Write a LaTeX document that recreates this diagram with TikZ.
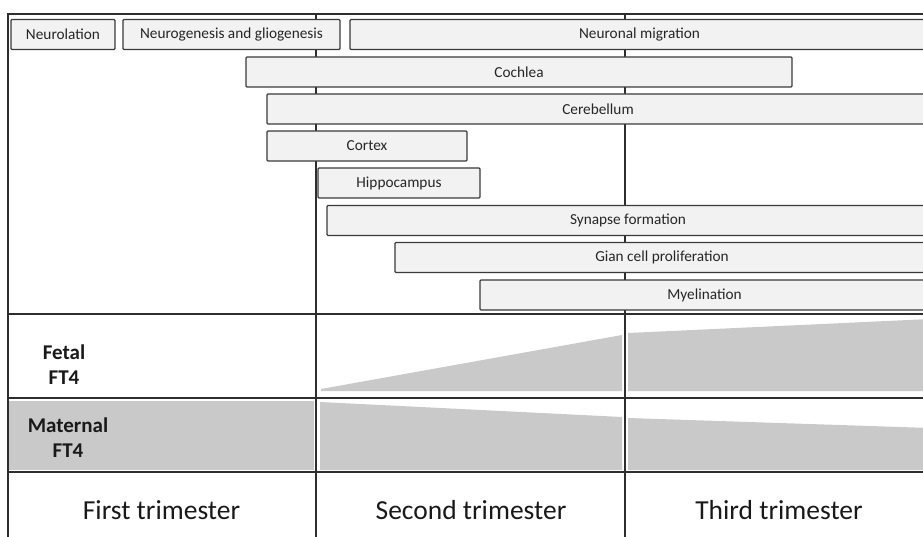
\documentclass[tikz,border=0pt]{standalone}
\usepackage{fontspec}
\setmainfont{Carlito}
\definecolor{BarFill}{HTML}{F2F2F2}
\definecolor{BarLine}{HTML}{3A3A3A}
\definecolor{LevelGray}{HTML}{C9C9C9}
\definecolor{GridLine}{HTML}{2E2E2E}

\begin{document}
\begin{tikzpicture}[x=1pt, y=-1pt,
        bar/.style={draw=BarLine, fill=BarFill, line width=1.1pt, rounded corners=1pt,
                    minimum height=30pt, inner sep=0pt,
                    font=\fontsize{15.3}{17}\selectfont, text=black!85},
        grid/.style={draw=GridLine, line width=1.2pt},
        lvl/.style={fill=LevelGray},
        rowlab/.style={font=\bfseries\fontsize{21}{25}\selectfont, align=center, text=black!90},
        tri/.style={font=\fontsize{27.5}{30}\selectfont, text=black!90},
      ]
      \useasboundingbox (0,0) rectangle (923,537);
      \clip (0,0) rectangle (923,537);
      % hormone levels
      \fill[lvl] (9,401) rectangle (314,470);
      \fill[lvl] (321,389) -- (622,335) -- (622,391) -- (321,391) -- cycle;
      \fill[lvl] (628,333) -- (930,319) -- (930,391) -- (628,391) -- cycle;
      \fill[lvl] (320,402) -- (622,417) -- (622,470) -- (320,470) -- cycle;
      \fill[lvl] (628,418) -- (930,428) -- (930,470) -- (628,470) -- cycle;
      % frame and trimester grid
      \draw[grid] (8,537) -- (8,14) -- (930,14);
      \draw[grid] (8,314) -- (930,314);
      \draw[grid] (8,398) -- (930,398);
      \draw[grid] (8,472) -- (930,472);
      \draw[grid] (316,14) -- (316,537);
      \draw[grid] (625,14) -- (625,537);
      % developmental processes
      \node[bar, minimum width=104pt] (neurol) at (63,34.5)    {Neurolation};
      \node[bar, minimum width=217pt] (neurog) at (231.5,34.5) {Neurogenesis and gliogenesis};
      \node[bar, minimum width=579pt] (migr)   at (639.5,34.5) {Neuronal migration};
      \node[bar, minimum width=546pt] (cochl)  at (519,72)     {Cochlea};
      \node[bar, minimum width=662pt] (cereb)  at (598,109)    {Cerebellum};
      \node[bar, minimum width=200pt] (cortex) at (367,146)    {Cortex};
      \node[bar, minimum width=162pt] (hippo)  at (399,183)    {Hippocampus};
      \node[bar, minimum width=602pt] (syn)    at (628,220.5)  {Synapse formation};
      \node[bar, minimum width=534pt] (glia)   at (662,257.5)  {Gian cell proliferation};
      \node[bar, minimum width=449pt] (myel)   at (704.5,295)  {Myelination};
      % row and column labels
      \node[rowlab] (fetal) at (64,365)   {Fetal\\FT4};
      \node[rowlab] (mat)   at (68,437.5) {Maternal\\FT4};
      \node[tri] (first)  at (161.5,510) {First trimester};
      \node[tri] (second) at (471,510)   {Second trimester};
      \node[tri] (third)  at (779,510)   {Third trimester};
    \end{tikzpicture}
\end{document}
